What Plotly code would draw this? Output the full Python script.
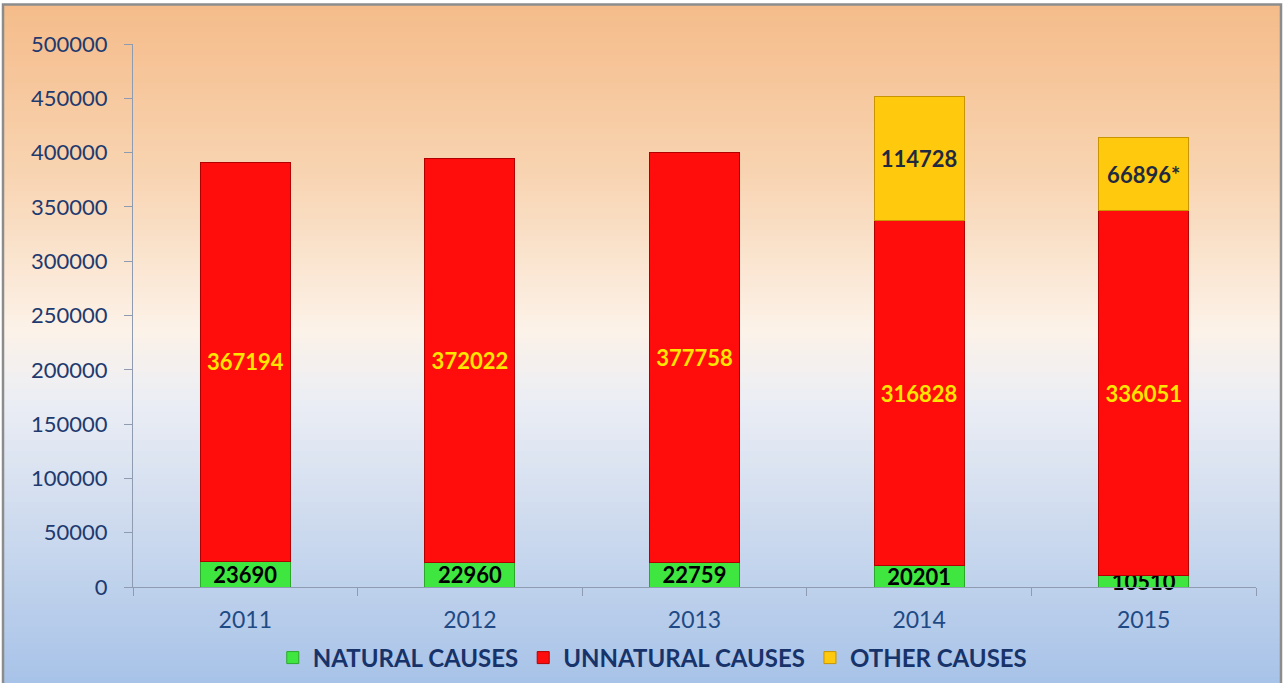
import plotly.graph_objects as go

years = ["2011", "2012", "2013", "2014", "2015"]
natural = [23690, 22960, 22759, 20201, 10510]
unnatural = [367194, 372022, 377758, 316828, 336051]
other = [None, None, None, 114728, 66896]
other_labels = ["", "", "", "114728", "66896*"]

W, H = 1285, 683
FONT = "Lato, 'Open Sans', sans-serif"

fig = go.Figure()
fig.add_trace(go.Bar(
    x=years, y=natural, name="NATURAL CAUSES",
    marker=dict(color="#3FE63F", line=dict(color="#2AA82A", width=1)),
    text=[str(v) for v in natural], textposition="inside", insidetextanchor="middle",
    constraintext="none", cliponaxis=False,
    textfont=dict(family=FONT, size=22, color="#000000", weight="bold"),
    width=0.4,
))
fig.add_trace(go.Bar(
    x=years, y=unnatural, name="UNNATURAL CAUSES",
    marker=dict(color="#FF0D0D", line=dict(color="#B00000", width=1)),
    text=[str(v) for v in unnatural], textposition="inside", insidetextanchor="middle",
    constraintext="none",
    textfont=dict(family=FONT, size=22, color="#FFE600", weight="bold"),
    width=0.4,
))
fig.add_trace(go.Bar(
    x=years, y=other, name="OTHER CAUSES",
    marker=dict(color="#FFC90E", line=dict(color="#C89400", width=1)),
    text=other_labels, textposition="inside", insidetextanchor="middle",
    constraintext="none",
    textfont=dict(family=FONT, size=22, color="#1F2A40", weight="bold"),
    width=0.4,
))

# background gradient (paper covers entire figure since margins are 0)
stops = [(0.0, (245, 188, 138)), (0.25, (248, 212, 178)), (0.48, (252, 242, 232)),
         (0.58, (236, 238, 244)), (1.0, (168, 195, 232))]

def col(t):
    for (t0, c0), (t1, c1) in zip(stops[:-1], stops[1:]):
        if t0 <= t <= t1:
            f = (t - t0) / (t1 - t0) if t1 > t0 else 0
            return "rgb(%d,%d,%d)" % tuple(round(a + (b - a) * f) for a, b in zip(c0, c1))
    return "rgb(%d,%d,%d)" % stops[-1][1]

shapes = []
N = 120
top_px = 4
for i in range(N):
    y0p = top_px + (H - top_px) * i / N
    y1p = top_px + (H - top_px) * (i + 1) / N + 1
    shapes.append(dict(type="rect", xref="paper", yref="paper", layer="below",
                       x0=4 / W, x1=1280 / W, y0=1 - y1p / H, y1=1 - y0p / H,
                       fillcolor=col(i / (N - 1)), line=dict(width=0)))
shapes.append(dict(type="rect", xref="paper", yref="paper", layer="below",
                   x0=3 / W, x1=1281 / W, y0=-0.01, y1=1 - 4.5 / H,
                   fillcolor="rgba(0,0,0,0)", line=dict(color="#8C8C8C", width=2.5)))

fig.update_layout(
    width=W, height=H, template="none",
    barmode="stack",
    margin=dict(l=0, r=0, t=0, b=0),
    paper_bgcolor="white", plot_bgcolor="rgba(0,0,0,0)",
    shapes=shapes,
    font=dict(family=FONT),
    xaxis=dict(domain=[133 / W, 1256 / W], type="category", automargin=False,
               showline=True, linecolor="#8E9BB0", linewidth=1.2,
               ticks="outside", tickson="boundaries", ticklen=8, tickcolor="#8E9BB0",
               ticklabelstandoff=12,
               showgrid=False, zeroline=False,
               tickfont=dict(family=FONT, size=23, color="#1F4A85")),
    yaxis=dict(domain=[1 - 587 / H, 1 - 44 / H], range=[0, 500000], dtick=50000,
               automargin=False, showline=True, linecolor="#8E9BB0", linewidth=1.2,
               ticks="outside", ticklen=8, tickcolor="#8E9BB0",
               ticklabelstandoff=12,
               showgrid=False, zeroline=False, tickformat="d",
               tickfont=dict(family=FONT, size=22, color="#1F3A6E")),
    legend=dict(orientation="h", x=0.508, xanchor="center", y=1 - 658 / H, yanchor="middle",
                bgcolor="rgba(0,0,0,0)", traceorder="normal",
                font=dict(family=FONT, size=24, color="#17336A", weight="bold"),
                itemwidth=30),
    bargap=0.6,
)

fig.write_html("out.html", config={"displayModeBar": False},
               post_script="document.body.style.margin='0';document.body.style.overflow='hidden';")
